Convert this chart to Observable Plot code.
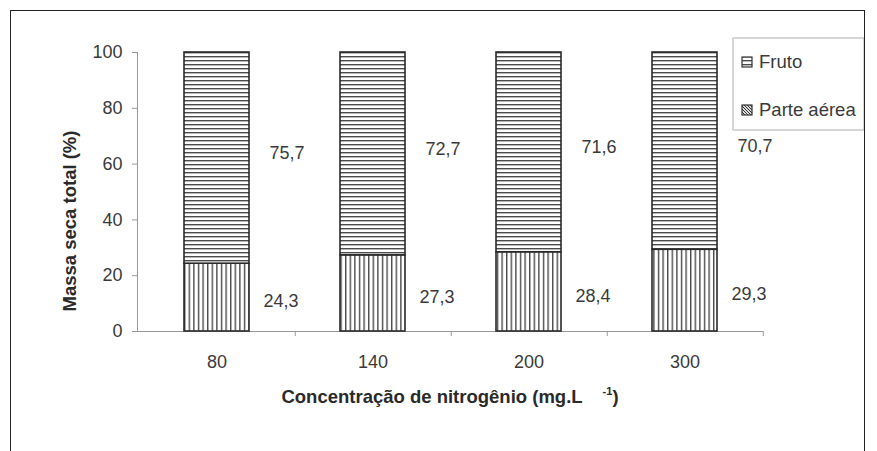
<!DOCTYPE html>
<html>
<head>
<meta charset="utf-8">
<script src="https://cdn.jsdelivr.net/npm/d3@7"></script>
<script src="https://cdn.jsdelivr.net/npm/@observablehq/plot@0.6"></script>
<style>
  html, body { margin: 0; padding: 0; background: #fff; }
  #wrap { position: relative; width: 877px; height: 451px; overflow: hidden; }
  #frame { position: absolute; left: 10px; top: 10px; width: 853px; height: 470px; border: 1.5px solid #222; pointer-events: none; }
  #chart { position: absolute; left: 0; top: 0; }
</style>
</head>
<body>
<div id="wrap"><div id="chart"></div><div id="frame"></div></div>
<script>
const categories = ["80", "140", "200", "300"];
const parteAerea = [24.3, 27.3, 28.4, 29.3];
const fruto = [75.7, 72.7, 71.6, 70.7];
const seriesNames = ["Fruto", "Parte aérea"];
const yTicks = [0, 20, 40, 60, 80, 100];
const yTitle = "Massa seca total (%)";
const xTitle = "Concentração de nitrogênio (mg.L";

const fmt = v => v.toFixed(1).replace(".", ",");
const W = 877, H = 451;
const mL = 137, mR = 114, mT = 52, mB = 120;
const step = (W - mL - mR) / categories.length;

const plot = Plot.plot({
  width: W,
  height: H,
  marginLeft: mL,
  marginRight: mR,
  marginTop: mT,
  marginBottom: mB,
  style: { fontFamily: "'Liberation Sans', Arial, sans-serif", fontSize: "18px", color: "#3a3a3a", background: "transparent" },
  x: { domain: categories, paddingInner: 0.585, paddingOuter: 0.2925 },
  y: { domain: [0, 100] },
  marks: [
    Plot.frame({ anchor: "left", stroke: "#999" }),
    Plot.ruleY([0], { stroke: "#999" }),
    Plot.ruleX(categories, { x: d => d, dx: step / 2, y1: 0, y2: 0, insetBottom: -5, stroke: "#999" }),
    Plot.axisY({ ticks: yTicks, tickSize: 5, tickPadding: 10, label: null, stroke: "#999", fill: "#3a3a3a" }),
    Plot.axisX({ tickSize: 0, tickPadding: 24, label: null, fill: "#3a3a3a" }),
    Plot.barY(categories, { x: d => d, y1: 0, y2: (d, i) => parteAerea[i], fill: "url(#vstripes)", stroke: "#2a2a2a", strokeWidth: 1.6 }),
    Plot.barY(categories, { x: d => d, y1: (d, i) => parteAerea[i], y2: (d, i) => parteAerea[i] + fruto[i], fill: "url(#hstripes)", stroke: "#2a2a2a", strokeWidth: 1.6 }),
    Plot.text(categories, { x: d => d, y: (d, i) => parteAerea[i] + fruto[i] / 2, text: (d, i) => fmt(fruto[i]), dx: 70, dy: -5, fill: "#3a3a3a" }),
    Plot.text(categories, { x: d => d, y: (d, i) => parteAerea[i] / 2, text: (d, i) => fmt(parteAerea[i]), dx: 64, dy: 4, fill: "#3a3a3a" }),
    Plot.text([yTitle], { frameAnchor: "left", textAnchor: "middle", rotate: -90, dx: -67, dy: 29, fontWeight: "bold", fontSize: 18.5, fill: "#2a2a2a" })
  ]
});

const svg = d3.select(plot);
const defs = svg.insert("defs", ":first-child");
const hp = defs.append("pattern").attr("id", "hstripes").attr("patternUnits", "userSpaceOnUse").attr("width", 8).attr("height", 4);
hp.append("rect").attr("width", 8).attr("height", 4).attr("fill", "#fff");
hp.append("rect").attr("y", 0).attr("width", 8).attr("height", 1.4).attr("fill", "#4a4a4a");
const vp = defs.append("pattern").attr("id", "vstripes").attr("patternUnits", "userSpaceOnUse").attr("width", 4.6).attr("height", 8);
vp.append("rect").attr("width", 4.6).attr("height", 8).attr("fill", "#fff");
vp.append("rect").attr("x", 0).attr("width", 1.4).attr("height", 8).attr("fill", "#4a4a4a");
const dp = defs.append("pattern").attr("id", "dstripes").attr("patternUnits", "userSpaceOnUse").attr("width", 3).attr("height", 3);
dp.append("rect").attr("width", 3).attr("height", 3).attr("fill", "#ddd");
dp.append("path").attr("d", "M0,0L3,3").attr("stroke", "#333").attr("stroke-width", 1);

// x title with superscript
const xt = svg.append("text")
  .attr("x", mL + (W - mL - mR) / 2).attr("y", 403)
  .attr("text-anchor", "middle").attr("font-weight", "bold").attr("fill", "#2a2a2a")
  .attr("font-size", 18.5);
xt.append("tspan").text(xTitle);
xt.append("tspan").attr("dx", 20).attr("dy", -8).attr("font-size", 11).text("-1");
xt.append("tspan").attr("dy", 8).text(")");

// legend
const lg = svg.append("g").attr("text-anchor", "start");
lg.append("rect").attr("x", 733).attr("y", 38).attr("width", 131).attr("height", 92)
  .attr("fill", "#fff").attr("stroke", "#bbb").attr("stroke-width", 1.2);
const legendFills = ["url(#hstripes)", "url(#dstripes)"];
seriesNames.forEach((name, i) => {
  const cy = 62 + i * 48;
  lg.append("rect").attr("x", 742).attr("y", cy - 5).attr("width", 10).attr("height", 10)
    .attr("fill", legendFills[i]).attr("stroke", "#333").attr("stroke-width", 1.2);
  lg.append("text").attr("x", 759).attr("y", cy).attr("dy", "0.35em").attr("text-anchor", "start")
    .attr("font-size", 18.5).attr("fill", "#3a3a3a").text(name);
});

document.getElementById("chart").appendChild(plot);
</script>
</body>
</html>
